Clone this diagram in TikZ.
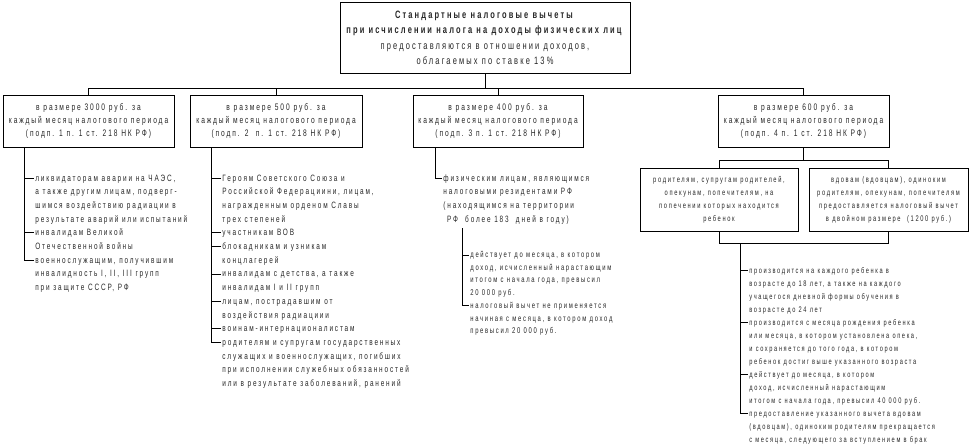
\documentclass[tikz,border=0pt]{standalone}
\usepackage{fontspec}
\newfontfamily\nf[FakeStretch=0.7,LetterSpace=20]{Liberation Sans}
\newcommand\szTop{\nf\fontsize{10.7}{15.5}\selectfont}
\newcommand\szBox{\nf\fontsize{9.5}{13}\selectfont}
\newcommand\szList{\nf\fontsize{9.2}{13.7}\selectfont}
\newcommand\szSub{\nf\fontsize{8.2}{13}\selectfont}
\newcommand\szSmall{\nf\fontsize{8.4}{12.7}\selectfont}
\newcommand\szRight{\nf\fontsize{8.1}{13}\selectfont}
\newcommand\itm[2]{\parbox[t]{260pt}{#1\raggedright #2}}
\begin{document}
\begin{tikzpicture}[x=1pt,y=-1pt,line width=0.8pt,
  boxA/.style={draw,align=center,inner sep=0pt,text=black!85},
  litem/.style={anchor=base west,inner sep=0pt,text=black!85}]
\useasboundingbox (0,0) rectangle (969,447);
% top box
\node[boxA,minimum width=290pt,minimum height=71pt,font=\szTop] (top) at (485,38)
 {\textbf{Стандартные налоговые вычеты}\\
  \textbf{при исчислении налога на доходы физических лиц}\\
  предоставляются в отношении доходов,\\
  облагаемых по ставке 13\%};
% level 1 boxes
\node[boxA,minimum width=171pt,minimum height=52pt,font=\szBox] (b1) at (88.5,121)
 {в размере 3000 руб. за\\каждый месяц налогового периода\\(подп. 1 п. 1 ст. 218 НК РФ)};
\node[boxA,minimum width=172pt,minimum height=52pt,font=\szBox] (b2) at (276,121)
 {в размере 500 руб. за\\каждый месяц налогового периода\\(подп. 2 \ п. 1 ст. 218 НК РФ)};
\node[boxA,minimum width=170pt,minimum height=52pt,font=\szBox] (b3) at (498,121)
 {в размере 400 руб. за\\каждый месяц налогового периода\\(подп. 3 п. 1 ст. 218 НК РФ)};
\node[boxA,minimum width=171pt,minimum height=52pt,font=\szBox] (b4) at (803.5,121)
 {в размере 600 руб. за\\каждый месяц налогового периода\\(подп. 4 п. 1 ст. 218 НК РФ)};
\coordinate (j0) at (485,88);
\draw (top.south) -- (j0);
\draw (b1.north) -- (b1.north |- j0) -- (b4.north |- j0) -- (b4.north);
\draw (b2.north) -- (b2.north |- j0);
\draw (b3.north) -- (b3.north |- j0);
% ---- list 1
\node[litem] (i11) at (35,181) {\itm{\szList}{ликвидаторам аварии на ЧАЭС,\\а также другим лицам, подверг-\\шимся воздействию радиации в\\результате аварий или испытаний}};
\node[litem] (i12) at (35,235.8) {\itm{\szList}{инвалидам Великой\\Отечественной войны}};
\node[litem] (i13) at (35,263.2) {\itm{\szList}{военнослужащим, получившим\\инвалидность I, II, III групп\\при защите СССР, РФ}};
\coordinate (t1) at (b1.south -| 24,0);
\foreach \n in {i11,i12,i13}{\coordinate (k\n) at ([shift={(-1.5pt,3pt)}]\n.base west);}
\draw (t1) |- (ki13);
\draw (t1 |- ki11) -- (ki11);
\draw (t1 |- ki12) -- (ki12);
% ---- list 2
\node[litem] (i21) at (222,181) {\itm{\szList}{Героям Советского Союза и\\Российской Федерациини, лицам,\\награжденным орденом Славы\\трех степеней}};
\node[litem] (i22) at (222,235.8) {\itm{\szList}{участникам ВОВ}};
\node[litem] (i23) at (222,249.5) {\itm{\szList}{блокадникам и узникам\\концлагерей}};
\node[litem] (i24) at (222,276.9) {\itm{\szList}{инвалидам с детства, а также\\инвалидам I и II групп}};
\node[litem] (i25) at (222,304.3) {\itm{\szList}{лицам, пострадавшим от\\воздействия радиациии}};
\node[litem] (i26) at (222,331.7) {\itm{\szList}{воинам-интернационалистам}};
\node[litem] (i27) at (222,345.4) {\itm{\szList}{родителям и супругам государственных\\служащих и военнослужащих, погибших\\при исполнении служебных обязанностей\\или в результате заболеваний, ранений}};
\coordinate (t2) at (b2.south -| 211,0);
\foreach \n in {i21,i22,i23,i24,i25,i26,i27}{\coordinate (k\n) at ([shift={(-1.5pt,3pt)}]\n.base west);}
\draw (t2) |- (ki27);
\foreach \n in {i21,i22,i23,i24,i25,i26}{\draw (t2 |- k\n) -- (k\n);}
% ---- list 3
\node[litem] (i31) at (443,181) {\itm{\szList}{физическим лицам, являющимся\\налоговыми резидентами РФ\\(находящимся на территории\\\ РФ \ более 183 \ дней в году)}};
\coordinate (t3) at (b3.south -| 435,0);
\coordinate (ki31) at ([shift={(-1.5pt,3pt)}]i31.base west);
\draw (t3) |- (ki31);
\node[litem] (i32) at (470,257.5) {\itm{\szSmall}{действует до месяца, в котором\\доход, исчисленный нарастающим\\итогом с начала года, превысил\\20 000 руб.}};
\node[litem] (i33) at (470,308.3) {\itm{\szSmall}{налоговый вычет не применяется\\начиная с месяца, в котором доход\\превысил 20 000 руб.}};
\coordinate (t3b) at (462,228);
\foreach \n in {i32,i33}{\coordinate (k\n) at ([shift={(-1.5pt,2.5pt)}]\n.base west);}
\draw (t3b) |- (ki33);
\draw (t3b |- ki32) -- (ki32);
% ---- right part
\node[boxA,minimum width=158pt,minimum height=63pt,font=\szSub] (s1) at (719,199.5)
 {родителям, супругам родителей,\\опекунам, попечителям, на\\попечении которых находится\\ребенок};
\node[boxA,minimum width=159pt,minimum height=63pt,font=\szSub] (s2) at (888.5,199.5)
 {вдовам (вдовцам), одиноким\\родителям, опекунам, попечителям\\предоставляется налоговый вычет\\в двойном размере \ (1200 руб.)};
\coordinate (j4) at (803.5,160);
\draw (b4.south) -- (j4);
\draw (s1.north) -- (s1.north |- j4) -- (s2.north |- j4) -- (s2.north);
\coordinate (j5) at (803.5,243);
\draw (s1.south) -- (s1.south |- j5) -- (s2.south |- j5) -- (s2.south);
\coordinate (t4) at (740,243);
\node[litem] (i41) at (749,273) {\itm{\szRight}{производится на каждого ребенка в\\возрасте до 18 лет, а также на каждого\\учащегося дневной формы обучения в\\возрасте до 24 лет}};
\node[litem] (i42) at (749,325) {\itm{\szRight}{производится с месяца рождения ребенка\\или месяца, в котором установлена опека,\\и сохраняется до того года, в котором\\ребенок достиг выше указанного возраста}};
\node[litem] (i43) at (749,377) {\itm{\szRight}{действует до месяца, в котором\\доход, исчисленный нарастающим\\итогом с начала года, превысил 40 000 руб.}};
\node[litem] (i44) at (749,416) {\itm{\szRight}{предоставление указанного вычета вдовам\\(вдовцам), одиноким родителям прекращается\\с месяца, следующего за вступлением в брак}};
\foreach \n in {i41,i42,i43,i44}{\coordinate (k\n) at ([shift={(-1.5pt,3pt)}]\n.base west);}
\draw (t4) |- (ki44);
\foreach \n in {i41,i42,i43}{\draw (t4 |- k\n) -- (k\n);}
\end{tikzpicture}
\end{document}
